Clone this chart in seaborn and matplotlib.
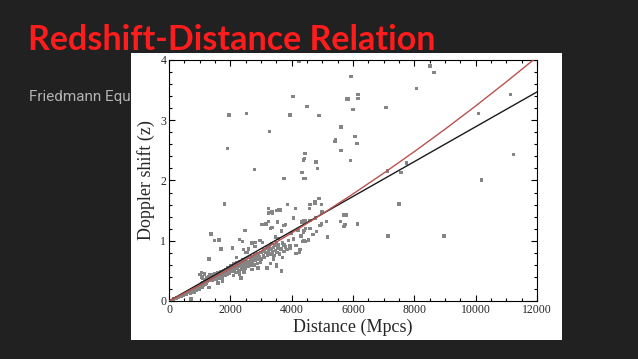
import pandas as pd
import matplotlib.pyplot as plt
from matplotlib.ticker import MultipleLocator
import seaborn as sns

# slide texts
slide_title = "Redshift-Distance Relation"
slide_subtitle = "Friedmann Equation"
x_label = "Distance (Mpcs)"
y_label = "Doppler shift (z)"

x_ticks = [0, 2000, 4000, 6000, 8000, 10000, 12000]
y_ticks = [0, 1, 2, 3, 4]

# fitted relations (distance in Mpc, z)
line_distance = [0, 1000, 2000, 3000, 4000, 5000, 6000, 7000, 8000, 9000, 10000, 11000, 12000]
linear_z = [0, 0.289, 0.578, 0.868, 1.157, 1.446, 1.735, 2.024, 2.313, 2.603, 2.892, 3.181, 3.47]
curve_z = [0, 0.262, 0.537, 0.826, 1.129, 1.446, 1.777, 2.121, 2.479, 2.851, 3.237, 3.637, 4.05]

# galaxies: (distance Mpc, z)
outlier_points = [
    (7075, 3.21), (8510, 3.90), (8640, 3.79), (8075, 3.53), (11140, 3.43), (10100, 3.11),
    (11240, 2.43), (10190, 2.01), (7120, 2.16), (7750, 2.29), (7560, 2.13), (7500, 1.61),
    (7140, 1.08), (8965, 1.08), (4240, 3.98), (5935, 3.73), (4040, 3.39), (5800, 3.35),
    (5850, 3.35), (6160, 3.43), (6160, 3.36), (4500, 3.23), (3945, 3.09), (4890, 3.08),
    (6000, 3.18), (5610, 2.89), (6060, 2.73), (5430, 2.67), (5410, 2.65), (6130, 2.61),
    (5610, 2.50), (4430, 2.45), (1955, 3.09), (2520, 3.11), (3270, 2.81), (1900, 2.53),
    (2780, 2.18), (1800, 1.61), (4390, 2.34), (4420, 2.36), (4790, 2.31), (4835, 2.20),
    (4335, 2.13), (4400, 2.03), (4450, 2.03), (3750, 2.03), (4890, 1.70), (5920, 2.33),
]

middle_points = [
    (3860, 1.60), (3590, 1.51), (3520, 1.50), (3630, 1.51), (4120, 1.54), (4575, 1.54),
    (4760, 1.62), (4990, 1.48), (3300, 1.47), (3360, 1.49), (5760, 1.43), (4050, 1.38),
    (4400, 1.33), (4340, 1.31), (4450, 1.34), (4780, 1.38), (4980, 1.28), (4930, 1.25),
    (5140, 1.32), (5600, 1.32), (5710, 1.24), (6140, 1.28), (3800, 1.27), (3750, 1.25),
    (3530, 1.31), (3360, 1.22), (3300, 1.20), (3470, 1.06), (3560, 1.04), (3675, 1.16),
    (4000, 1.13), (4400, 1.17), (4450, 1.20), (4380, 1.14), (4050, 1.03), (4400, 1.00),
    (4350, 0.99), (4540, 1.01), (5160, 1.06), (3750, 0.93), (3800, 0.89), (3945, 0.91),
    (4140, 0.92), (4270, 0.85), (4140, 0.79), (4250, 0.80), (3240, 1.54), (3370, 1.46),
    (3240, 1.46), (3030, 1.27), (3160, 1.28), (3240, 1.32), (1370, 1.11), (1480, 1.00),
    (1630, 1.01), (2480, 1.17), (1305, 0.70), (1695, 0.86), (2300, 1.02), (2390, 0.99),
    (2075, 0.88), (2435, 0.85), (2710, 0.96), (2800, 0.97), (2565, 0.80), (2970, 1.00),
    (3050, 0.97), (4600, 1.60), (4760, 1.65), (5690, 1.43), (5770, 1.43), (5740, 1.27),
    (4600, 1.34), (4430, 0.99), (4980, 1.60), (3180, 0.56), (3510, 0.60), (3670, 0.50),
]

dense_points = [
    (150, 0.03), (250, 0.05), (300, 0.06), (400, 0.08), (450, 0.10), (500, 0.12), (550, 0.11),
    (600, 0.14), (650, 0.15), (700, 0.17), (700, 0.13), (720, 0.03), (750, 0.16), (800, 0.19),
    (820, 0.15), (850, 0.21), (900, 0.18), (900, 0.24), (950, 0.22), (980, 0.19), (1000, 0.26),
    (1000, 0.21), (1010, 0.44), (1050, 0.28), (1050, 0.47), (1080, 0.23), (1080, 0.40),
    (1100, 0.30), (1100, 0.38), (1120, 0.26), (1150, 0.33), (1150, 0.45), (1170, 0.28),
    (1200, 0.35), (1200, 0.30), (1230, 0.38), (1250, 0.32), (1280, 0.40), (1300, 0.34),
    (1300, 0.22), (1320, 0.44), (1350, 0.37), (1380, 0.40), (1400, 0.35), (1420, 0.43),
    (1450, 0.38), (1480, 0.46), (1500, 0.41), (1530, 0.36), (1550, 0.44), (1580, 0.40),
    (1600, 0.47), (1600, 0.30), (1620, 0.42), (1650, 0.38), (1680, 0.45), (1700, 0.49),
    (1720, 0.43), (1750, 0.40), (1750, 0.33), (1780, 0.50), (1800, 0.46), (1830, 0.42),
    (1850, 0.52), (1880, 0.48), (1900, 0.44), (1920, 0.55), (1950, 0.50), (1980, 0.46),
    (2000, 0.53), (2020, 0.58), (2050, 0.49), (2080, 0.55), (2100, 0.62), (2100, 0.42),
    (2120, 0.52), (2150, 0.58), (2180, 0.47), (2200, 0.64), (2200, 0.72), (2220, 0.55),
    (2250, 0.60), (2280, 0.50), (2300, 0.66), (2300, 0.45), (2320, 0.57), (2350, 0.62),
    (2350, 0.38), (2380, 0.53), (2400, 0.68), (2420, 0.59), (2450, 0.64), (2450, 0.48),
    (2480, 0.55), (2500, 0.70), (2500, 0.80), (2520, 0.61), (2550, 0.66), (2580, 0.57),
    (2600, 0.72), (2600, 0.86), (2620, 0.63), (2650, 0.68), (2680, 0.59), (2700, 0.74),
    (2700, 0.52), (2720, 0.65), (2750, 0.70), (2780, 0.60), (2800, 0.76), (2800, 0.90),
    (2820, 0.67), (2850, 0.72), (2880, 0.62), (2900, 0.78), (2900, 0.55), (2920, 0.69),
    (2950, 0.74), (2980, 0.64), (3000, 0.80), (3020, 0.70), (3050, 0.82), (3080, 0.75),
    (3100, 0.85), (3120, 0.72), (3150, 0.80), (3200, 0.88), (3200, 0.55), (3220, 0.76),
    (3250, 0.83), (3280, 0.92), (3300, 0.78), (3300, 0.62), (3320, 0.86), (3350, 0.95),
    (3380, 0.81), (3400, 0.89), (3400, 0.70), (3420, 0.75), (3450, 0.92), (3480, 0.84),
    (3500, 0.97), (3500, 0.58), (3520, 0.80), (3550, 0.88), (3580, 0.93), (3600, 0.78),
    (3650, 0.86), (3700, 0.96), (3700, 0.72), (3750, 0.82), (3800, 0.90), (3850, 0.85),
    (3900, 1.00), (3950, 0.87), (4200, 1.18), (4300, 1.08), (4600, 1.20), (4700, 1.10),
    (4800, 1.15),
]

points = pd.DataFrame(outlier_points + middle_points + dense_points, columns=["distance", "z"])
fits = pd.DataFrame({"distance": line_distance, "linear": linear_z, "curve": curve_z})

sns.set_style("ticks")
plt.rcParams["font.family"] = ["DejaVu Sans"]

fig = plt.figure(figsize=(6.38, 3.59), dpi=100)
fig.patch.set_facecolor("#212121")

fig.text(0.044, 0.861, slide_title, color="#ff1c1c", fontsize=24.5, fontweight="bold",
         family=["Lato", "DejaVu Sans"], va="baseline", zorder=5)
fig.text(0.045, 0.718, slide_subtitle, color="#b3b3b3", fontsize=11,
         family=["Roboto", "DejaVu Sans"], va="baseline", zorder=-1)

# white picture panel
panel = fig.add_axes([0.2053, 0.0529, 0.6755, 0.7994])
panel.set_facecolor("white")
panel.set_xticks([])
panel.set_yticks([])
for s in panel.spines.values():
    s.set_visible(False)

ax = fig.add_axes([0.2649, 0.1616, 0.5768, 0.6713])
ax.set_facecolor("white")

sns.scatterplot(data=points, x="distance", y="z", marker="s", s=6, color="#858585",
                edgecolor="none", linewidth=0, ax=ax, zorder=2)
sns.lineplot(data=fits, x="distance", y="linear", color="#1a1a1a", linewidth=1.0, ax=ax, zorder=3)
sns.lineplot(data=fits, x="distance", y="curve", color="#b9524d", linewidth=1.0, ax=ax, zorder=3)

ax.set_xlim(0, 12000)
ax.set_ylim(0, 4)
ax.set_xticks(x_ticks)
ax.set_yticks(y_ticks)
ax.xaxis.set_minor_locator(MultipleLocator(500))
ax.yaxis.set_minor_locator(MultipleLocator(0.2))
ax.tick_params(which="both", direction="in", top=True, right=True, width=0.8, color="black")
ax.tick_params(which="major", length=4, pad=2, labelsize=8.5)
ax.tick_params(which="minor", length=2.5)
for lab in ax.get_xticklabels() + ax.get_yticklabels():
    lab.set_family("Liberation Serif")
for s in ax.spines.values():
    s.set_color("black")
    s.set_linewidth(0.8)

ax.set_xlabel(x_label, family="Liberation Serif", fontsize=13, labelpad=2)
ax.set_ylabel(y_label, family="Liberation Serif", fontsize=13, labelpad=4)

fig.savefig("out.png", dpi=100, facecolor=fig.get_facecolor())
